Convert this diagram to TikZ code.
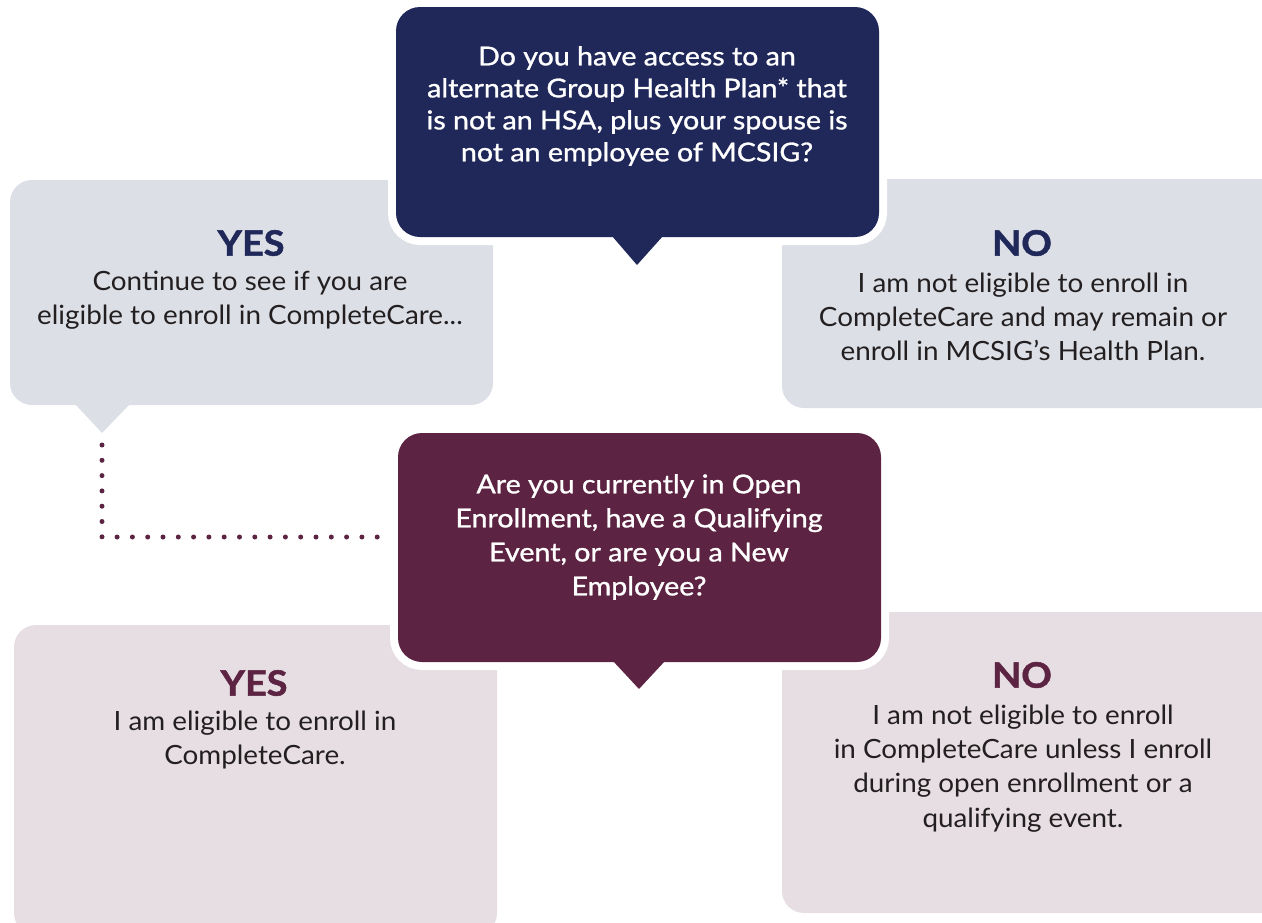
\documentclass[tikz,border=0pt]{standalone}
\usepackage{fontspec}
\setmainfont{Lato}
\definecolor{navy}{HTML}{1F2859}
\definecolor{maroon}{HTML}{5C2442}
\definecolor{paleblue}{HTML}{DCDFE6}
\definecolor{palerose}{HTML}{E6DEE2}
\definecolor{ink}{HTML}{231F20}
\begin{document}
\begin{tikzpicture}[x=1pt,y=-1pt,
  softbox/.style={rectangle,rounded corners=22pt,inner sep=0pt,outer sep=0pt},
  qbox/.style={rectangle,rounded corners=24pt,inner sep=0pt,outer sep=0pt,
    preaction={draw=white,line width=16pt}},
  qtext/.style={text=white,align=center,font=\fontsize{26}{32}\selectfont\addfontfeatures{FakeBold=1.1,FakeStretch=1.1}},
  btext/.style={text=ink,align=center,font=\fontsize{26.5}{34.2}\selectfont\addfontfeatures{FakeStretch=1.05}},
  head/.style={font=\fontsize{35}{40}\selectfont\bfseries\addfontfeatures{FakeStretch=1.08,FakeBold=1.5}},
  dotline/.style={draw=maroon,line width=5pt,line cap=round,dash pattern=on 0pt off 15.3pt}
]
\useasboundingbox (0,0) rectangle (1262,922);
% answer boxes, first question
\node[softbox,fill=paleblue,minimum width=483pt,minimum height=225pt] (yesA) at (251.5,292.5) {};
\fill[paleblue] (75,404) -- (130,404) -- (102,433) -- cycle;
\node[softbox,fill=paleblue,minimum width=500pt,minimum height=229pt] (noA) at (1032,293.5) {};
% answer boxes, second question
\node[softbox,fill=palerose,minimum width=483pt,minimum height=310pt] (yesB) at (255.5,780) {};
\node[softbox,fill=palerose,minimum width=500pt,minimum height=301pt] (noB) at (1032,762.5) {};
% question boxes
\node[qbox,fill=navy,minimum width=483pt,minimum height=230pt] (q1) at (637.5,122) {};
\fill[navy] (612,236) -- (663,236) -- (637,265) -- cycle;
\node[qbox,fill=maroon,minimum width=483pt,minimum height=229pt] (q2) at (639.5,547.5) {};
\fill[maroon] (613,661) -- (665,661) -- (639,689) -- cycle;
% dotted connector
\coordinate (dotstart) at (102,445);
\coordinate (dotend) at (378,537);
\draw[dotline] (dotstart) |- (dotend);
% texts
\node[qtext] (q1t) at (637,106) {Do you have access to an\\alternate Group Health Plan* that\\is not an HSA, plus your spouse is\\not an employee of MCSIG?};
\node[qtext,font=\fontsize{26}{34}\selectfont\addfontfeatures{FakeBold=1.1,FakeStretch=1.1}] (q2t) at (639,537) {Are you currently in Open\\Enrollment, have a Qualifying\\Event, or are you a New\\Employee?};
\node[head,text=navy] (yesAh) at (251,243) {YES};
\node[btext] (yesAt) at (250,300) {Continue to see if you are\\eligible to enroll in CompleteCare...};
\node[head,text=navy] (noAh) at (1022,243) {NO};
\node[btext] (noAt) at (1023,317) {I am not eligible to enroll in\\CompleteCare and may remain or\\enroll in MCSIG’s Health Plan.};
\node[head,text=maroon] (yesBh) at (254,683) {YES};
\node[btext] (yesBt) at (255,740) {I am eligible to enroll in\\CompleteCare.};
\node[head,text=maroon] (noBh) at (1022,675) {NO};
\node[btext] (noBt) at (1023,768.5) {I am not eligible to enroll\\in CompleteCare unless I enroll\\during open enrollment or a\\qualifying event.};
\end{tikzpicture}
\end{document}
